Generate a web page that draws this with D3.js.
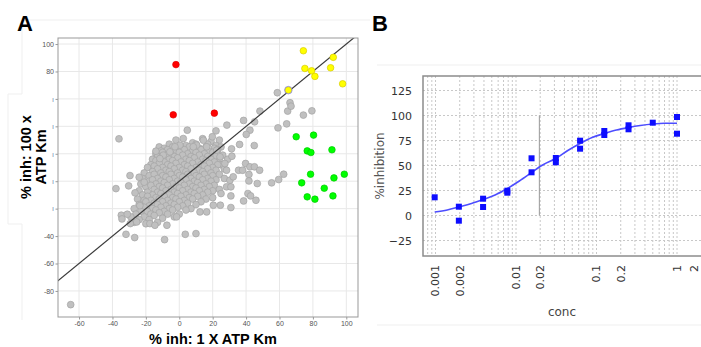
<!DOCTYPE html>
<html>
<head>
<meta charset="utf-8">
<script src="https://cdn.jsdelivr.net/npm/d3@7"></script>
<style>
  body { margin: 0; background: #fff; }
  svg { display: block; }
</style>
</head>
<body>
<svg id="fig" width="701" height="347"></svg>
<script>
// ---- panel A: % inhibition at 1x vs 100x ATP Km ----
const xTicksA = [-60, -40, -20, 0, 20, 40, 60, 80, 100];
const xTickLabelsA = ["-60", "-40", "-20", "0", "20", "40", "60", "80", "100"];
const yTicksA = [-80, -60, -40, -20, 0, 20, 40, 60, 80, 100];
const yTickLabelsA = ["-80", "-60", "-40", "ı", "ı", "ı", "ı", "ı", "80", "100"];

// dense central cloud (gray compounds)
const cloudPts = [
  [-2,30],[14,31],[19,29],[24,30],[8,28],
  [-6,27],[4,26],[10,27],[17,27],[22,26],
  [-12,25],[-9,24],[-4,25],[1,24],[6,25],[12,24],[16,25],[21,24],[25,25],
  [-11,22],[-7,23],[-2,22],[3,23],[8,22],[13,23],[18,22],[23,23],
  [-14,20],[-10,21],[-5,20],[0,21],[5,20],[10,21],[15,20],[20,21],[26,19],
  [-13,18],[-8,19],[-3,18],[2,19],[7,18],[12,19],[17,18],[22,18],
  [-16,16],[-11,17],[-6,16],[-1,17],[4,16],[9,17],[14,16],[19,16],[24,15],[29,16],
  [-14,15],[-9,14],[-4,15],[1,14],[6,15],[11,14],[16,15],[21,14],[25,12],
  [-17,12],[-12,13],[-7,12],[-2,13],[3,12],[8,13],[13,12],[18,13],[23,12],
  [-19,10],[-15,11],[-10,10],[-5,11],[0,10],[5,11],[10,10],[15,11],[20,10],[27,9],
  [-13,9],[-8,8],[-3,9],[2,8],[7,9],[12,8],[17,9],[22,8],
  [-21,6],[-16,7],[-11,6],[-6,7],[-1,6],[4,7],[9,6],[14,7],[19,6],[24,5],
  [-18,4],[-15,5],[-10,4],[-5,5],[0,4],[5,5],[10,4],[15,5],[20,4],
  [-22,2],[-13,2],[-8,3],[-3,2],[2,3],[7,2],[12,3],[17,2],[22,1],[27,2],
  [-18,0],[-16,1],[-11,0],[-6,1],[-1,0],[4,1],[9,0],[14,1],[19,0],
  [-23,-2],[-14,-2],[-9,-1],[-4,-2],[1,-1],[6,-2],[11,-1],[16,-2],[21,-3],
  [-20,-4],[-17,-3],[-12,-4],[-7,-3],[-2,-4],[3,-3],[8,-4],[13,-3],[18,-4],[24,-6],
  [-24,-7],[-15,-6],[-10,-5],[-5,-6],[0,-5],[5,-6],[10,-5],[15,-6],[20,-7],
  [-19,-8],[-13,-8],[-8,-7],[-3,-8],[2,-7],[7,-8],[12,-7],[17,-8],
  [-22,-10],[-16,-10],[-11,-9],[-6,-10],[-1,-9],[4,-10],[9,-9],[14,-10],[20,-12],
  [-25,-13],[-19,-11],[-14,-12],[-9,-11],[-4,-12],[1,-11],[6,-12],[11,-11],[16,-13],
  [-21,-14],[-17,-14],[-12,-13],[-7,-14],[-2,-13],[3,-14],[8,-13],[13,-15],
  [-24,-17],[-20,-15],[-15,-16],[-10,-15],[-5,-16],[0,-15],[5,-16],[10,-17],
  [-18,-18],[-13,-17],[-8,-18],[-3,-17],[2,-18],[7,-20],
  [-27,-20],[-21,-19],[-16,-20],[-11,-19],[-6,-20],[-1,-19],[4,-21],
  [-23,-22],[-19,-22],[-14,-21],[-9,-22],[-4,-21],[0,-24],
  [-26,-24],[-17,-24],[-12,-23],[-7,-24],[-3,-26],
  [-29,-26],[-21,-26],[-15,-25],[-10,-27],
  [-24,-28],[-18,-28],[-13,-30],
  [-27,-30],[-20,-31]
];

// scattered gray compounds outside the cloud
const outlierPts = [
  [-65,-90],[-36.1,30.9],[-37.9,-5.4],[-29.5,4.1],[-24,2.9],[-34.7,-24.8],
  [-31.9,-38.7],[-26.7,-41.1],[-8.8,-42.6],[3.6,-38.7],[10,-38.2],[-7.4,-32.1],
  [-1.6,-26],[4.8,37.2],[2.4,31.1],[-14,21.9],[28.5,40.9],[22,36.7],[19.8,32.4],
  [38.5,44.3],[42.3,37.2],[40.1,34.1],[45.1,43.3],[48.3,51.1],[44.9,26],
  [36.1,26.8],[31.3,23.6],[31.5,18.2],[35.5,8],[37.9,8],[39.7,12.9],[42.3,10.5],
  [45,10.5],[48.1,8],[41.7,4.9],[41.7,0.2],[46.7,-1.7],[41.1,-9],[42.7,-10.7],
  [45.9,-13.9],[38.5,-14.4],[30.9,-19.2],[30.9,-10.7],[24.6,-17.5],[55.3,-1.2],
  [59.5,1.2],[62.5,5.1],[59.1,38.9],[64.3,41.8],[64.9,51.1],[66.3,57.2],
  [66.9,54.7],[74.3,48.2],[79.4,51.3],[58.7,64.5],[-31.1,-24.1],[-34.3,-27.5],
  [-29.3,-30.9],[-25.5,-29.7],[-30.3,-3.4],[-26.5,-8.5],[-21,-0.7],[-23.6,-17.8],
  [-17.6,-30.9],[-14.6,-32.1],[12.4,-22.4],[16.4,-22.4],[20.4,-17.5],[25,-9],
  [28.3,-4.1],[30.3,0.7],[30.9,-4.1],[32.3,3.2],[28.3,8],[27.3,12.9],[24.4,17.8],
  [22.4,22.6],[16.4,25.1],[14.4,29.9],[10.4,26.3],[8.4,25.1],[0.4,26.3],
  [-2.6,25.1],[-5.6,21.4],[-9.6,19],[-11.6,16.5]
];

const redPts = [[-2,85],[-3.6,48.4],[21,49.6]];
const yellowPts = [[74.3,95.1],[75.2,82.2],[79.2,80.5],[81.2,76.4],[92.2,90.3],[90.6,82.7],[97.8,71],[65.3,66.4]];
const greenPts = [[70,32.4],[80.4,33.6],[76.6,22.1],[78.8,20.9],[91.4,22.9],[78.6,5.1],[92.6,2.4],
  [98.8,5.1],[73.3,-1.2],[86.8,-5.1],[76.6,-11.4],[81.2,-13.1],[92,-10.7]];

// ---- panel B: dose response ----
const concB = [0.000977, 0.00195, 0.00195, 0.0039, 0.0039, 0.0078, 0.0078, 0.0156, 0.0156,
  0.03125, 0.03125, 0.0625, 0.0625, 0.125, 0.125, 0.25, 0.25, 0.5, 1, 1];
const inhB = [18.2, 8.8, -5.2, 16.8, 8.5, 24.8, 22.8, 57.2, 43.2,
  57.5, 53.2, 74.8, 66.8, 84.5, 80.5, 90.2, 86.2, 92.8, 98.5, 81.8];
const fitConc = [0.000977, 0.0014, 0.00195, 0.0028, 0.0039, 0.0055, 0.0078, 0.011, 0.0156, 0.0195,
  0.022, 0.03125, 0.044, 0.0625, 0.088, 0.125, 0.177, 0.25, 0.35, 0.5, 0.7, 1];
const fitInh = [3.5, 5.5, 8.5, 12, 16, 20.5, 27, 34.5, 43, 48.5,
  51, 57, 65, 72, 78, 82, 85.5, 88, 90, 91.5, 92.2, 92.2];
const ic50 = 0.0195;
const yTicksB = [-25, 0, 25, 50, 75, 100, 125];
const xTicksB = [0.001, 0.002, 0.01, 0.02, 0.1, 0.2, 1, 2];
const xTickLabelsB = ["0.001", "0.002", "0.01", "0.02", "0.1", "0.2", "1", "2"];

const svg = d3.select("#fig");

// faint layout frames from the original figure
svg.append("path")
  .attr("d", "M22,20 H370 M22,20 V94 H8 V224 H22 V320 M377,65 H701 M377,325 H701")
  .attr("fill", "none").attr("stroke", "#efefef").attr("stroke-width", 1);

svg.append("text").text("A")
  .attr("x", 17).attr("y", 31)
  .style("font", "bold 22px 'Liberation Sans', Arial, sans-serif");
svg.append("text").text("B")
  .attr("x", 372).attr("y", 31)
  .style("font", "bold 22px 'Liberation Sans', Arial, sans-serif");

// ================= panel A =================
const A = { left: 58, right: 358, top: 38, bottom: 317 };
const xA = d3.scaleLinear().domain([-72.6, 107]).range([A.left, A.right]);
const yA = d3.scaleLinear().domain([-99, 104.4]).range([A.bottom, A.top]);

svg.append("clipPath").attr("id", "clipA")
  .append("rect").attr("x", A.left).attr("y", A.top)
  .attr("width", A.right - A.left).attr("height", A.bottom - A.top);

const gA = svg.append("g");

gA.append("g").selectAll("line").data(xTicksA).join("line")
  .attr("x1", d => xA(d)).attr("x2", d => xA(d))
  .attr("y1", A.top).attr("y2", A.bottom)
  .attr("stroke", "#e8e8e8");
gA.append("g").selectAll("line").data(yTicksA).join("line")
  .attr("y1", d => yA(d)).attr("y2", d => yA(d))
  .attr("x1", A.left).attr("x2", A.right)
  .attr("stroke", "#e8e8e8");

const axA_x = gA.append("g").attr("transform", `translate(0,${A.bottom})`)
  .call(d3.axisBottom(xA).tickValues(xTicksA).tickFormat((d, i) => xTickLabelsA[i])
    .tickSize(2.5).tickSizeOuter(0).tickPadding(1.5));
const axA_y = gA.append("g").attr("transform", `translate(${A.left},0)`)
  .call(d3.axisLeft(yA).tickValues(yTicksA).tickFormat((d, i) => yTickLabelsA[i])
    .tickSize(2.5).tickSizeOuter(0).tickPadding(1.5));
[axA_x, axA_y].forEach(ax => {
  ax.select(".domain").remove();
  ax.selectAll(".tick line").attr("stroke", "#999");
  ax.selectAll(".tick text").attr("fill", "#555")
    .style("font", "7px 'Liberation Sans', Arial, sans-serif");
});
axA_y.selectAll(".tick text").filter(d => d > -30 && d < 70).attr("fill", "#7088b0");

const plotA = gA.append("g").attr("clip-path", "url(#clipA)");

plotA.append("g").selectAll("circle").data(cloudPts.concat(outlierPts)).join("circle")
  .attr("cx", d => xA(d[0])).attr("cy", d => yA(d[1])).attr("r", 3.4)
  .attr("fill", "#c0c0c0").attr("stroke", "#a3a3a3").attr("stroke-width", 0.7);

plotA.append("line")
  .attr("x1", xA(-100)).attr("y1", yA(-100))
  .attr("x2", xA(120)).attr("y2", yA(120))
  .attr("stroke", "#3a3a3a").attr("stroke-width", 1.2);

const colored = [
  { pts: redPts, fill: "#ff0000", stroke: "#e00000" },
  { pts: yellowPts, fill: "#ffff00", stroke: "#d8cc00" },
  { pts: greenPts, fill: "#00ff00", stroke: "#00cc00" }
];
colored.forEach(s => {
  plotA.append("g").selectAll("circle").data(s.pts).join("circle")
    .attr("cx", d => xA(d[0])).attr("cy", d => yA(d[1])).attr("r", 3.3)
    .attr("fill", s.fill).attr("stroke", s.stroke).attr("stroke-width", 0.7);
});
// the highlighted compound on the diagonal
plotA.append("circle")
  .attr("cx", xA(yellowPts[7][0])).attr("cy", yA(yellowPts[7][1])).attr("r", 3.8)
  .attr("fill", "none").attr("stroke", "#8a8ad8").attr("stroke-width", 0.8);

gA.append("rect")
  .attr("x", A.left).attr("y", A.top)
  .attr("width", A.right - A.left).attr("height", A.bottom - A.top)
  .attr("fill", "none").attr("stroke", "#999").attr("stroke-width", 1);

svg.append("text").text("% inh: 1 X ATP Km")
  .attr("x", 213).attr("y", 344).attr("text-anchor", "middle")
  .style("font", "bold 14.5px 'Liberation Sans', Arial, sans-serif");
const yTitle = svg.append("text")
  .attr("transform", "translate(0,157) rotate(-90)")
  .attr("text-anchor", "middle")
  .style("font", "bold 14.5px 'Liberation Sans', Arial, sans-serif");
yTitle.append("tspan").attr("x", 0).attr("y", 31).text("% inh: 100 x");
yTitle.append("tspan").attr("x", 0).attr("y", 45.5).text("ATP Km");

// ================= panel B =================
const B = { left: 423, right: 715, top: 76, bottom: 256 };
const xB = d3.scaleLog().domain([0.001, 1]).range([435.5, 677]);
const yB = d3.scaleLinear().domain([0, 100]).range([215.5, 115.5]);

const gB = svg.append("g");
const minorB = [];
[0.0001, 0.001, 0.01, 0.1, 1].forEach(dec => {
  for (let k = 1; k <= 9; k++) {
    const v = +(dec * k).toPrecision(3);
    const px = xB(v);
    if (px > B.left + 1 && px < 701) minorB.push(v);
  }
});
gB.append("g").selectAll("line").data(minorB).join("line")
  .attr("x1", d => xB(d)).attr("x2", d => xB(d))
  .attr("y1", B.top).attr("y2", B.bottom)
  .attr("stroke", "#c8c8c8").attr("stroke-dasharray", "2,2");
gB.append("g").selectAll("line").data(yTicksB).join("line")
  .attr("y1", d => yB(d)).attr("y2", d => yB(d))
  .attr("x1", B.left).attr("x2", B.right)
  .attr("stroke", "#c8c8c8").attr("stroke-dasharray", "2,2");

gB.append("line")
  .attr("x1", xB(ic50)).attr("x2", xB(ic50))
  .attr("y1", yB(100)).attr("y2", yB(0))
  .attr("stroke", "#999").attr("stroke-width", 1);

gB.append("path")
  .datum(fitConc.map((c, i) => [c, fitInh[i]]))
  .attr("d", d3.line().x(d => xB(d[0])).y(d => yB(d[1])).curve(d3.curveMonotoneX))
  .attr("fill", "none").attr("stroke", "#4d4dff").attr("stroke-width", 1.6);

gB.append("g").selectAll("rect").data(concB.map((c, i) => [c, inhB[i]])).join("rect")
  .attr("x", d => xB(d[0]) - 3).attr("y", d => yB(d[1]) - 3)
  .attr("width", 6).attr("height", 6)
  .attr("fill", "#0d0dff");

gB.append("rect")
  .attr("x", B.left).attr("y", B.top)
  .attr("width", B.right - B.left).attr("height", B.bottom - B.top)
  .attr("fill", "none").attr("stroke", "#8c8c8c").attr("stroke-width", 1.5);

const axB_y = gB.append("g").attr("transform", `translate(${B.left},0)`)
  .call(d3.axisLeft(yB).tickValues(yTicksB).tickSize(0).tickPadding(11));
axB_y.select(".domain").remove();
axB_y.selectAll(".tick text").attr("fill", "#333")
  .style("font", "11px 'DejaVu Sans', sans-serif");

// the last label sits at the picture's right edge; keep it inside
const xLabB = d => Math.min(xB(d), 694);
gB.append("g").selectAll("text").data(xTicksB).join("text")
  .text((d, i) => xTickLabelsB[i])
  .attr("x", d => xLabB(d)).attr("y", 265)
  .attr("transform", d => `rotate(-90,${xLabB(d)},265)`)
  .attr("text-anchor", "end").attr("dy", "0.35em")
  .attr("fill", "#333")
  .style("font", "11px 'DejaVu Sans', sans-serif");

svg.append("text").text("%inhibition")
  .attr("transform", "translate(384,166) rotate(-90)")
  .attr("text-anchor", "middle").attr("fill", "#555")
  .style("font", "12px 'DejaVu Sans', sans-serif");
svg.append("text").text("conc")
  .attr("x", 562).attr("y", 316).attr("text-anchor", "middle").attr("fill", "#444")
  .style("font", "12px 'DejaVu Sans', sans-serif");
</script>
</body>
</html>
